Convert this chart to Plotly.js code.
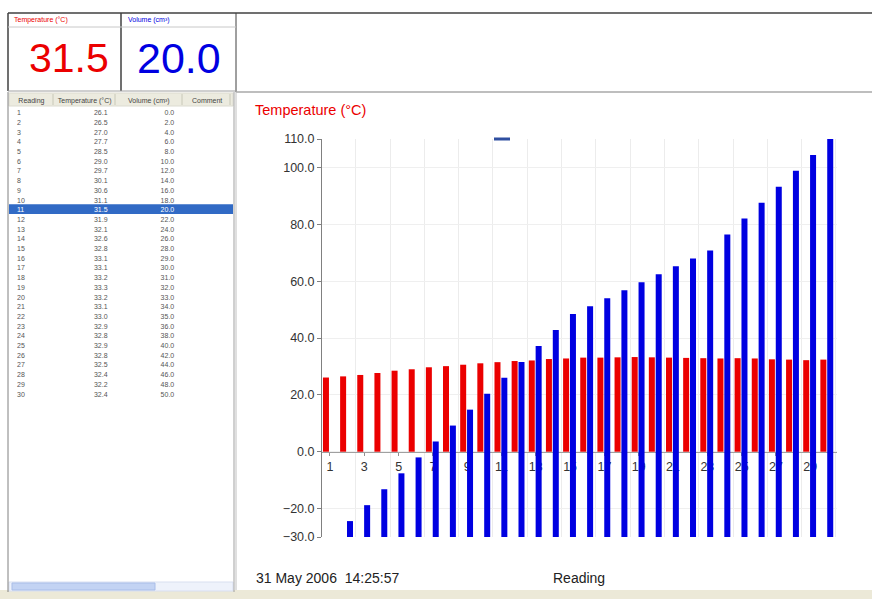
<!DOCTYPE html>
<html>
<head>
<meta charset="utf-8">
<script src="https://cdn.plot.ly/plotly-3.0.1.min.js"></script>
<style>
  html, body { margin: 0; padding: 0; background: #ffffff; }
  #chart { width: 872px; height: 599px; }
</style>
</head>
<body>
<div id="chart"></div>
<script>
// ---------- data ----------
const readings = [1, 2, 3, 4, 5, 6, 7, 8, 9, 10, 11, 12, 13, 14, 15, 16, 17, 18, 19, 20, 21, 22, 23, 24, 25, 26, 27, 28, 29, 30];
const temperature = [26.1, 26.5, 27.0, 27.7, 28.5, 29.0, 29.7, 30.1, 30.6, 31.1, 31.5, 31.9, 32.1, 32.6, 32.8, 33.1, 33.1, 33.2, 33.3, 33.2, 33.1, 33.0, 32.9, 32.8, 32.9, 32.8, 32.5, 32.4, 32.2, 32.4];
const volume = [0, 2, 4, 6, 8, 10, 12, 14, 16, 18, 20, 22, 24, 26, 28, 29, 30, 31, 32, 33, 34, 35, 36, 38, 40, 42, 44, 46, 48, 50];
const comments = readings.map(() => '');
const xTickVals = [1, 3, 5, 7, 9, 11, 13, 15, 17, 19, 21, 23, 25, 27, 29];
const yTickVals = [-30, -20, 0, 20, 40, 60, 80, 100, 110];
const tableHeader = ['Reading', 'Temperature (°C)', 'Volume (cm³)', 'Comment'];
const selectedReading = 11;
const currentTemp = '31.5';
const currentVolume = '20.0';
const dateText = '31 May 2006  14:25:57';

// ---------- helpers for layout (pixel -> paper) ----------
const W = 872, H = 599;
const px = x => x / W;
const py = y => 1 - y / H;

const RED = 'rgb(235,0,0)';
const BLUE = 'rgb(0,0,225)';
const FONT = 'Arial, "Liberation Sans", sans-serif';

const yDom = [py(537), py(139)];
const xDom = [px(322), px(837)];
const yRange = [-30, 110];
const xAxisPos = yDom[0] + (0 - yRange[0]) / (yRange[1] - yRange[0]) * (yDom[1] - yDom[0]);

// ---------- traces ----------
const tempBars = {
  type: 'bar', x: readings, y: temperature, xaxis: 'x', yaxis: 'y',
  width: 0.35, offset: -0.41,
  marker: { color: RED, line: { width: 0 } },
  hoverinfo: 'x+y', showlegend: false
};
const volBars = {
  type: 'bar', x: readings, y: volume, xaxis: 'x', yaxis: 'y2',
  width: 0.35, offset: -0.01,
  marker: { color: BLUE, line: { width: 0 } },
  hoverinfo: 'x+y', showlegend: false
};

// table geometry
const TABLE_TOP = 90, HEADER_H = 12, ROW_H = 9.7;
const rowFont = readings.map(r => r === selectedReading ? '#ffffff' : '#555555');
const clear = 'rgba(0,0,0,0)';
const table = {
  type: 'table',
  domain: { x: [px(9), px(233)], y: [py(580), py(TABLE_TOP)] },
  columnwidth: [45, 62, 67, 50],
  header: {
    values: tableHeader.map(s => s.replace(/ /g, '\u00a0')),
    align: 'center',
    height: HEADER_H,
    fill: { color: clear },
    line: { color: clear, width: 0 },
    font: { family: FONT, size: 7, color: '#444444' }
  },
  cells: {
    values: [readings, temperature, volume, comments],
    format: ['', '.1f', '.1f', ''],
    align: ['left', 'right', 'right', 'left'],
    height: ROW_H,
    fill: { color: clear },
    line: { color: clear, width: 0 },
    font: { family: FONT, size: 7, color: [rowFont, rowFont, rowFont, rowFont] }
  }
};

// ---------- layout ----------
const line = (x0, y0, x1, y1, color, width) => ({
  type: 'line', xref: 'paper', yref: 'paper',
  x0: px(x0), y0: py(y0), x1: px(x1), y1: py(y1),
  line: { color: color, width: width || 1 }, layer: 'above'
});
const rect = (x0, y0, x1, y1, fill, lineColor) => ({
  type: 'rect', xref: 'paper', yref: 'paper',
  x0: px(x0), y0: py(y0), x1: px(x1), y1: py(y1),
  fillcolor: fill, line: { color: lineColor || fill, width: lineColor ? 1 : 0 }, layer: 'below'
});

const selTop = TABLE_TOP + HEADER_H + (selectedReading - 1) * ROW_H + 5.2;

const shapes = [
  // status strip
  rect(0, 590, 872, 599, '#ece9d8'),
  // table header & selection
  rect(9, 93, 233, 106, '#ecebdf', '#dcdbd0'),
  line(53, 94, 53, 105, '#c8c8b8', 1),
  line(115, 94, 115, 105, '#c8c8b8', 1),
  line(182, 94, 182, 105, '#c8c8b8', 1),
  line(230, 94, 230, 105, '#c8c8b8', 1),
  rect(9, selTop, 233, selTop + ROW_H, '#316ac5'),
  // scrollbar
  rect(9, 582, 233, 591, '#eef2fb', '#d8dff0'),
  rect(12, 583, 155, 590, '#c3d3f3', '#a9bde8'),
  // display boxes
  line(8, 13, 872, 13, '#404040', 1.5),
  line(8, 13, 8, 91, '#404040', 1.5),
  line(121, 13, 121, 91, '#404040', 1.5),
  line(236, 13, 236, 92, '#404040', 1),
  line(8, 27, 236, 27, '#c8c8c8', 1),
  line(8, 91, 236, 91, '#a0a0a0', 1),
  // panel borders
  line(236, 92, 872, 92, '#a8a8a8', 1.5),
  line(8, 92, 8, 592, '#808080', 1),
  line(234, 92, 234, 592, '#a0a0a0', 1),
  line(236, 92, 236, 590, '#c0c0c0', 1),
  // small legend dash
  line(494, 139, 510, 139, '#2f4fa0', 3)
];

const annotations = [
  { text: 'Temperature (°C)', x: px(12), y: py(20), xanchor: 'left', yanchor: 'middle', showarrow: false,
    xref: 'paper', yref: 'paper', font: { family: FONT, size: 7, color: RED } },
  { text: 'Volume (cm³)', x: px(126), y: py(20), xanchor: 'left', yanchor: 'middle', showarrow: false,
    xref: 'paper', yref: 'paper', font: { family: FONT, size: 7, color: BLUE } },
  { text: currentTemp, x: px(111), y: py(58), xanchor: 'right', yanchor: 'middle', showarrow: false,
    xref: 'paper', yref: 'paper', font: { family: FONT, size: 41, color: RED } },
  { text: currentVolume, x: px(223), y: py(58), xanchor: 'right', yanchor: 'middle', showarrow: false,
    xref: 'paper', yref: 'paper', font: { family: FONT, size: 43, color: BLUE } },
  { text: 'Temperature (°C)', x: px(253), y: py(110), xanchor: 'left', yanchor: 'middle', showarrow: false,
    xref: 'paper', yref: 'paper', font: { family: FONT, size: 14.5, color: RED } },
  { text: dateText, x: px(254), y: py(578), xanchor: 'left', yanchor: 'middle', showarrow: false,
    xref: 'paper', yref: 'paper', font: { family: FONT, size: 14, color: '#222222' } },
  { text: 'Reading', x: px(551), y: py(578), xanchor: 'left', yanchor: 'middle', showarrow: false,
    xref: 'paper', yref: 'paper', font: { family: FONT, size: 14, color: '#222222' } }
];

const layout = {
  width: W, height: H,
  margin: { l: 0, r: 0, t: 0, b: 0, pad: 0 },
  paper_bgcolor: '#ffffff', plot_bgcolor: 'rgba(0,0,0,0)',
  showlegend: false,
  font: { family: FONT, size: 12, color: '#333333' },
  xaxis: {
    domain: xDom, range: [0.534, 30.56], anchor: 'free', position: xAxisPos,
    tickmode: 'array', tickvals: xTickVals,
    ticks: 'outside', ticklen: 3, tickcolor: '#909090',
    showline: true, linecolor: '#a0a0a0', linewidth: 1,
    showgrid: false, zeroline: false, layer: 'below traces',
    tickfont: { family: FONT, size: 12.5, color: '#333333' },
    minor: { tickmode: 'linear', tick0: 2.5, dtick: 2, showgrid: true, gridcolor: '#ececec', gridwidth: 1, ticks: '' },
    fixedrange: true
  },
  yaxis: {
    domain: yDom, range: yRange,
    tickmode: 'array', tickvals: yTickVals, tickformat: '.1f',
    ticks: 'outside', ticklen: 4, tickcolor: '#808080',
    showline: true, linecolor: '#808080', linewidth: 1,
    showgrid: true, gridcolor: '#efefef', zeroline: false,
    tickfont: { family: FONT, size: 12.5, color: '#333333' },
    fixedrange: true
  },
  yaxis2: {
    overlaying: 'y', range: [0, 50], visible: false, showgrid: false, zeroline: false, fixedrange: true
  },
  shapes: shapes,
  annotations: annotations
};

Plotly.newPlot('chart', [table, tempBars, volBars], layout, { displayModeBar: false, staticPlot: true });
</script>
</body>
</html>
